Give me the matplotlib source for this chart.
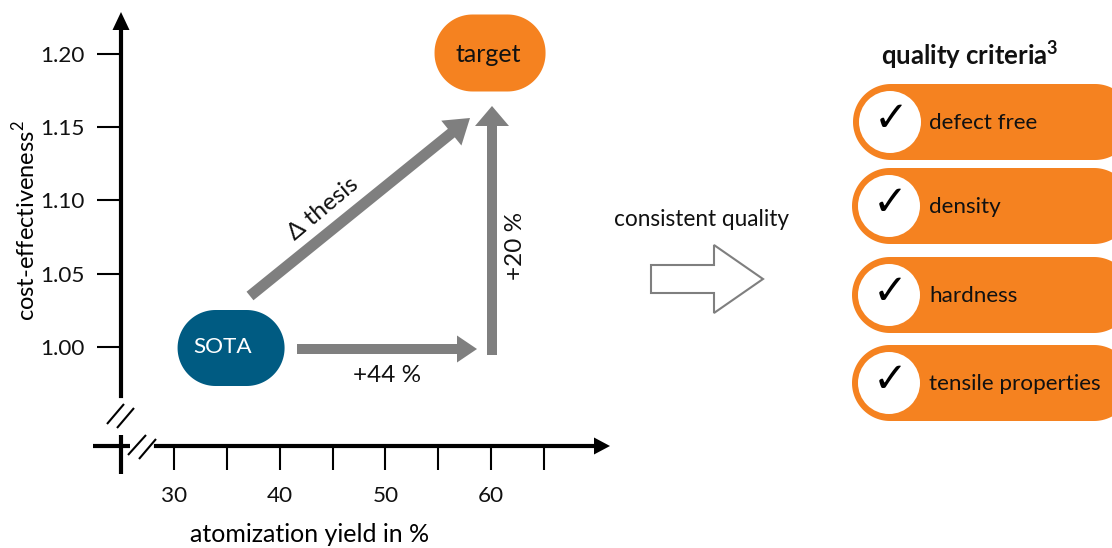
import matplotlib
matplotlib.use('Agg')
import matplotlib.pyplot as plt
import numpy as np
from matplotlib.patches import Circle, FancyArrow, Polygon

plt.rcParams['font.family'] = ['Lato', 'DejaVu Sans']
plt.rcParams['mathtext.fontset'] = 'custom'
plt.rcParams['mathtext.rm'] = 'Lato'
plt.rcParams['mathtext.bf'] = 'Lato:bold'

W, H = 1112, 548
ORANGE = '#F58220'
BLUE = '#005B82'
GRAY = '#7F7F7F'
INK = '#111111'
FS = 16.2

# chart values
x_ticks = [30, 35, 40, 45, 50, 55, 60, 65]
x_tick_labels = ['30', '', '40', '', '50', '', '60', '']
y_ticks = [1.00, 1.05, 1.10, 1.15, 1.20]
y_tick_labels = ['1.00', '1.05', '1.10', '1.15', '1.20']
sota = (35.4, 1.00)
target = (59.9, 1.20)
criteria = ['defect free', 'density', 'hardness', 'tensile properties']
criteria_y = [122, 206, 295, 383]
criteria_left = [853, 852, 852, 852]

fig = plt.figure(figsize=(W / 100, H / 100), dpi=100)

# main axes: left spine at x=121, bottom spine at y=446, in pixels
left, right, top, bottom = 121, 610, 12, 446
ax = fig.add_axes([left / W, 1 - bottom / H, (right - left) / W, (bottom - top) / H])
ax.set_xlim(30 + (left - 174) / 10.57, 30 + (right - 174) / 10.57)
ax.set_ylim(1.0 + (347 - bottom) / 1465, 1.0 + (347 - top) / 1465)
ax.patch.set_alpha(0)
for s in ['top', 'right']:
    ax.spines[s].set_visible(False)
for s in ['left', 'bottom']:
    ax.spines[s].set_linewidth(3)
ax.spines['left'].set_bounds(1.0 + (347 - 396) / 1465, 1.0 + (347 - 25) / 1465)
ax.spines['bottom'].set_bounds(30 + (156 - 174) / 10.57, 30 + (598 - 174) / 10.57)
ax.set_xticks(x_ticks, x_tick_labels, fontsize=FS)
ax.set_yticks(y_ticks, y_tick_labels, fontsize=FS)
ax.tick_params(axis='both', length=17, width=1.5, color='black', labelcolor=INK)
ax.tick_params(axis='x', pad=12)
ax.tick_params(axis='y', pad=9)
ax.set_xlabel('atomization yield in %', fontsize=18)
ax.xaxis.set_label_coords((310 - left) / (right - left), (bottom - 534) / (bottom - top), transform=ax.transAxes)
ax.xaxis.label.set_va('center')
ax.set_ylabel('cost-effectiveness$^2$', fontsize=17)
ax.yaxis.set_label_coords((25 - left) / (right - left), (bottom - 221) / (bottom - top), transform=ax.transAxes)
ax.yaxis.label.set_va('center')

# overlay in pixel coordinates for the schematic parts
px = fig.add_axes([0, 0, 1, 1])
px.set_xlim(0, W)
px.set_ylim(H, 0)
px.axis('off')


def to_px(x, y):
    """Data point of the chart axes -> overlay pixel position."""
    return px.transData.inverted().transform(ax.transData.transform((x, y)))


def pill(cx, cy, w, h, color, r):
    # rounded box with true circular corners
    corners = [(cx + w / 2 - r, cy - h / 2 + r, -90), (cx + w / 2 - r, cy + h / 2 - r, 0),
               (cx - w / 2 + r, cy + h / 2 - r, 90), (cx - w / 2 + r, cy - h / 2 + r, 180)]
    pts = []
    for ox, oy, start in corners:
        a = np.radians(np.linspace(start, start + 90, 30))
        pts.append(np.column_stack([ox + r * np.cos(a), oy + r * np.sin(a)]))
    px.add_patch(Polygon(np.vstack(pts), closed=True, fc=color, ec='none', zorder=3))


def thick_arrow(x0, y0, x1, y1, width=9, head_w=27, head_l=20, **kw):
    style = dict(fc=GRAY, ec='none', zorder=2)
    style.update(kw)
    px.add_patch(FancyArrow(x0, y0, x1 - x0, y1 - y0, width=width, head_width=head_w, head_length=head_l,
                            length_includes_head=True, **style))


# axis arrow heads
thick_arrow(121, 30, 121, 12, width=3, head_w=17, head_l=18, fc='black')
thick_arrow(595, 446, 610, 446, width=3, head_w=17, head_l=16, fc='black')

# axis break marks and stubs
for x0, y0, x1, y1 in [(107, 424, 124, 404), (117, 428, 134, 408), (128, 455, 146, 435), (139, 459, 156, 439)]:
    px.plot([x0, x1], [y0, y1], color='black', lw=1.5, solid_capstyle='butt')
px.plot([121, 121], [435, 474], color='black', lw=3, solid_capstyle='butt')
px.plot([93, 130], [446, 446], color='black', lw=3, solid_capstyle='butt')

# SOTA and target pills
sx, sy = to_px(*sota)
tx, ty = to_px(*target)
pill(sx, sy + 1, 107, 76, BLUE, 38)
pill(tx, ty - 1, 111, 77, ORANGE, 38)
px.text(sx - 8, sy, 'SOTA', color='white', fontsize=FS, ha='center', va='center', zorder=4)
px.text(tx - 2, ty, 'target', color=INK, fontsize=18, ha='center', va='center', zorder=4)

# gain arrows
thick_arrow(297, 349, 477, 349, width=10)
thick_arrow(492, 355, 492, 106, width=10, head_w=34, head_l=20)
thick_arrow(250, 296, 470, 118, width=11, head_w=32, head_l=24)
px.text(323, 209, '\u0394 thesis', fontsize=17.5, rotation=40, rotation_mode='anchor', ha='center', va='center', color=INK)
px.text(387, 375, '+44 %', fontsize=17.5, ha='center', va='center', color=INK)
px.text(516, 246, '+20 %', fontsize=17.5, rotation=90, ha='center', va='center', color=INK)

# outlined block arrow in the middle
px.add_patch(FancyArrow(651, 279, 112, 0, width=28, head_width=68, head_length=49, length_includes_head=True,
                        fc='white', ec=GRAY, lw=1.5))
px.text(701, 219, 'consistent quality', fontsize=16.3, ha='center', va='center', color=INK)

# quality criteria list on the right, running off the edge
px.text(970, 55, r'quality criteria$^{\mathbf{3}}$', fontsize=18.5, fontweight='bold', ha='center', va='center', color=INK)
for name, cy, lx in zip(criteria, criteria_y, criteria_left):
    pill(lx + 140, cy, 280, 76, ORANGE, 38)
    px.add_patch(Circle((lx + 37, cy), 31, fc='white', ec='none', zorder=4))
    px.text(lx + 38, cy - 3, '\u2713', family='DejaVu Sans', fontweight='bold', fontsize=30, ha='center', va='center', color='black', zorder=5)
    px.text(929, cy + 1, name, fontsize=16.2, ha='left', va='center', color=INK, zorder=5)

fig.savefig('out.png', dpi=100)
